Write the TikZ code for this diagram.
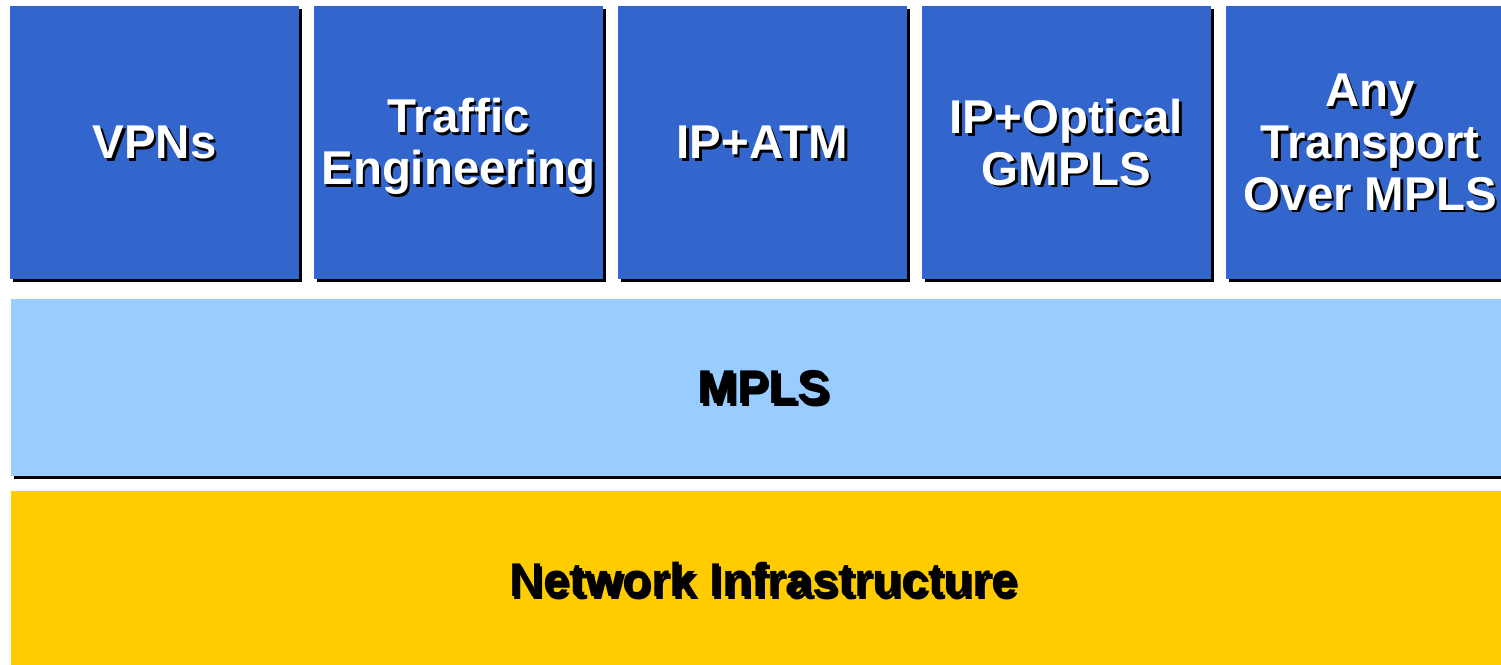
\documentclass[tikz,border=0pt]{standalone}
\usepackage{fontspec}
\setmainfont{Liberation Sans}
\usetikzlibrary{positioning, shadows}

\definecolor{tileblue}{HTML}{3366CC}
\definecolor{mplsblue}{HTML}{99CCFF}
\definecolor{infragold}{HTML}{FFCC00}

\tikzset{
    tile/.style={fill=tileblue, inner sep=0, outer sep=0,
        minimum width=5.78cm, minimum height=5.46cm,
        drop shadow={shadow xshift=0.06cm, shadow yshift=-0.06cm, fill=black, opacity=1}},
    band/.style={inner sep=0, outer sep=0, minimum width=30.1cm,
        drop shadow={shadow xshift=0.06cm, shadow yshift=-0.06cm, fill=black, opacity=1}},
    lbl/.style={align=center, font=\bfseries\fontsize{27}{29.5}\selectfont},
    lblshadow/.style={lbl, text=black},
    toplbl/.style={lbl, text=white},
    bandlbl/.style={lbl, text=black}
}

\begin{document}
\begin{tikzpicture}[x=0.02cm, y=-0.02cm]
        \useasboundingbox (0,0) rectangle (1501,664);

        % service tiles
        \node[tile] (vpns) at (154.5,142.5) {};
        \node[tile, right=0.3cm of vpns] (te) {};
        \node[tile, right=0.3cm of te] (ipatm) {};
        \node[tile, right=0.3cm of ipatm] (gmpls) {};
        \node[tile, right=0.3cm of gmpls] (atom) {};

        % layers
        \node[band, fill=mplsblue, minimum height=3.54cm] (mpls) at (763.5,387.5) {};
        \node[band, fill=infragold, minimum height=3.56cm] (infra) at (763.5,580) {};

        % tile labels
        \foreach \n/\dy/\t in {vpns/0/VPNs, te/4/{Traffic\\Engineering}, ipatm/0/IP+ATM,
                gmpls/0/{IP+Optical\\GMPLS}, atom/0/{Any\\Transport\\Over MPLS}} {
            \node[lblshadow] (\n-sh) at ([shift={(2.5,\dy+2.5)}]\n.center) {\t};
            \node[toplbl] (\n-lbl) at ([shift={(0,\dy)}]\n.center) {\t};
        }

        % layer labels
        \node[lblshadow] (mpls-sh) at ([shift={(2.5,2.5)}]mpls.center) {MPLS};
        \node[bandlbl] (mpls-lbl) at (mpls.center) {MPLS};
        \node[lblshadow] (infra-sh) at ([shift={(2.5,2.5)}]infra.center) {Network Infrastructure};
        \node[bandlbl] (infra-lbl) at (infra.center) {Network Infrastructure};

    \end{tikzpicture}
\end{document}
